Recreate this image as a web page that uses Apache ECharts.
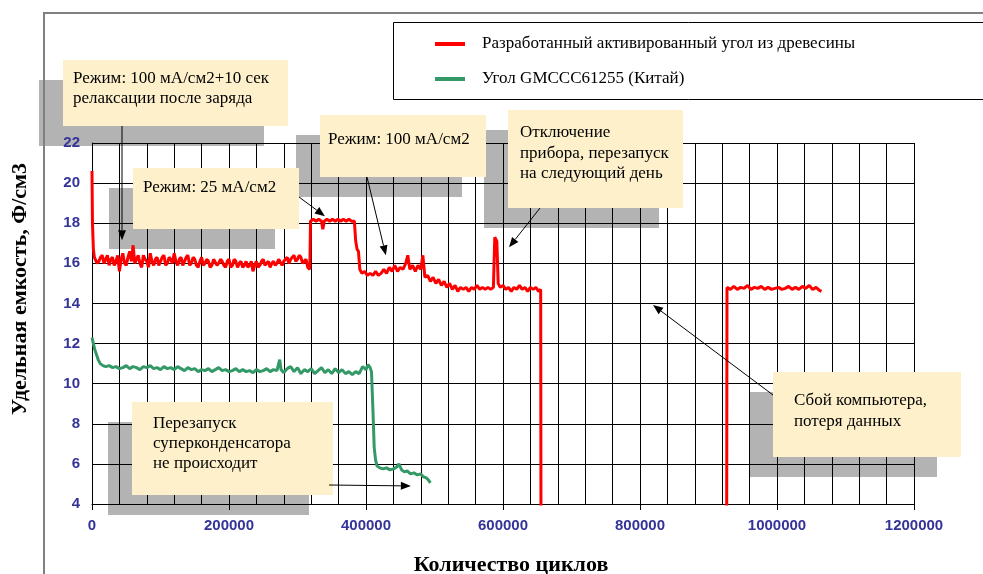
<!DOCTYPE html>
<html>
<head>
<meta charset="utf-8">
<script src="https://cdn.jsdelivr.net/npm/echarts@6/dist/echarts.min.js"></script>
<style>
  html, body { margin: 0; padding: 0; background: #ffffff; }
  #chart { width: 983px; height: 574px; }
</style>
</head>
<body>
<div id="chart"></div>
<script>
// Capacitance vs. cycle count for two supercapacitor electrode carbons

const seriesNames = [
  'Разработанный активированный угол из древесины',
  'Угол GMCCC61255 (Китай)'
];

const axisTitles = {
  x: 'Количество циклов',
  y: 'Удельная емкость, Ф/см3'
};

// [cycles, F/cm3] — wood-derived activated carbon
const woodCarbon = [
  [0, 20.6], [700, 18.0], [2000, 16.7], [3500, 16.3],
  [5000, 16.3], [7500, 16.0], [10000, 16.1], [12500, 16.3], [15000, 16.4], [17500, 16.0], [20000, 16.2], [22500, 16.4], [25000, 15.9],
  [27500, 16.2], [30000, 16.3], [32500, 15.9], [35000, 16.1], [37500, 16.4], [40000, 15.6], [42500, 16.2], [45000, 16.5], [47500, 16.0], [50000, 15.9],
  [52500, 16.3], [55000, 16.6], [57500, 16.1], [60000, 16.9], [62500, 16.0], [65000, 16.2], [67500, 16.4], [70000, 16.0], [72500, 15.8],
  [75000, 16.4], [77500, 16.2], [80000, 16.1], [82500, 15.8], [85000, 16.5], [87500, 16.1], [90000, 15.9], [92500, 16.2], [95000, 16.3],
  [97500, 15.9], [100000, 16.1], [102500, 16.3], [105000, 16.4], [107500, 15.9], [110000, 16.0], [112500, 16.3], [115000, 16.2], [117500, 16.0],
  [120000, 16.5], [122500, 16.1], [125000, 15.9], [127500, 16.2], [130000, 16.3], [132500, 15.9], [135000, 16.1], [137500, 16.3], [140000, 16.4],
  [142500, 15.9], [145000, 16.0], [147500, 16.3], [150000, 16.2], [152500, 15.9], [155000, 15.8], [157500, 16.1], [160000, 16.3], [162500, 15.9],
  [165000, 16.0], [167500, 16.2], [170000, 16.1], [172500, 15.8], [175000, 15.9], [177500, 16.2], [180000, 16.2], [182500, 15.9], [185000, 16.0],
  [187500, 16.2], [190000, 16.1], [192500, 15.9], [195000, 15.8], [197500, 16.1], [200000, 16.2], [202500, 15.8], [205000, 15.9], [207500, 16.2],
  [210000, 16.1], [212500, 15.8], [215000, 16.0], [217500, 16.1], [220000, 15.8], [222500, 15.9], [225000, 16.1], [227500, 15.8], [230000, 15.9],
  [232500, 16.1], [235000, 15.6], [237500, 15.9], [240000, 16.1], [242500, 15.8], [245000, 15.9], [247500, 16.1], [250000, 16.2], [252500, 15.9],
  [255000, 16.0], [257500, 16.1], [260000, 15.8], [262500, 16.0], [265000, 16.1], [267500, 15.9], [270000, 16.0], [272500, 16.2], [275000, 16.2],
  [277500, 15.9], [280000, 16.1], [282500, 16.2], [285000, 16.3], [287500, 16.0], [290000, 16.2], [292500, 16.3], [295000, 16.4], [297500, 16.1],
  [300000, 16.2], [302500, 16.4], [305000, 16.3], [307500, 16.0], [310000, 16.1], [312500, 16.2], [315000, 15.8], [318000, 15.7],
  [319000, 18.1], [323000, 18.2], [327000, 18.1], [331000, 18.2], [335000, 18.1], [337000, 17.7], [339000, 18.1], [343000, 18.2], [347000, 18.1],
  [351000, 18.2], [355000, 18.1], [359000, 18.2], [363000, 18.1], [367000, 18.2], [371000, 18.1], [375000, 18.2], [379000, 18.1], [383000, 18.1],
  [385000, 17.1], [387000, 16.7], [389000, 16.6], [391000, 15.7], [394000, 15.5],
  [398000, 15.6], [402000, 15.4], [406000, 15.5], [410000, 15.4], [414000, 15.6], [418000, 15.4], [422000, 15.5], [426000, 15.7], [430000, 15.5],
  [434000, 15.8], [438000, 15.6], [442000, 15.9], [446000, 15.6], [450000, 15.8], [454000, 15.7], [458000, 16.0], [461000, 16.4], [464000, 15.7],
  [468000, 15.9], [472000, 15.6], [476000, 15.9], [480000, 15.7], [483000, 16.4], [486000, 15.3],
  [490000, 15.4], [494000, 15.1], [498000, 15.3], [502000, 15.0], [506000, 15.2], [510000, 14.9], [514000, 15.1], [518000, 14.8], [522000, 15.0],
  [526000, 14.7], [530000, 14.9], [534000, 14.6], [538000, 14.8], [542000, 14.7], [546000, 14.8], [550000, 14.6], [554000, 14.8], [558000, 14.7],
  [562000, 14.9], [566000, 14.7], [570000, 14.8], [574000, 14.7], [578000, 14.8], [582000, 14.7], [586000, 14.8],
  [588000, 17.3], [591000, 17.1], [593000, 15.0], [596000, 14.8], [600000, 14.9], [604000, 14.7], [608000, 14.8], [612000, 14.6], [616000, 14.8],
  [620000, 14.7], [624000, 14.9], [628000, 14.7], [632000, 14.8], [636000, 14.6], [640000, 14.8], [644000, 14.7], [648000, 14.8], [652000, 14.6],
  [655000, 14.7], [655500, 2],
  [790000, null],
  [926500, 2], [927000, 14.8], [932000, 14.7], [937000, 14.85], [942000, 14.7], [947000, 14.8], [952000, 14.75], [957000, 14.9], [962000, 14.7],
  [967000, 14.8], [972000, 14.75], [977000, 14.85], [982000, 14.7], [987000, 14.8], [992000, 14.7], [997000, 14.75], [1002000, 14.8],
  [1007000, 14.7], [1012000, 14.75], [1017000, 14.85], [1022000, 14.7], [1027000, 14.8], [1032000, 14.7], [1037000, 14.85], [1042000, 14.75],
  [1047000, 14.9], [1052000, 14.7], [1057000, 14.8], [1062000, 14.65], [1065000, 14.6]
];

// [cycles, F/cm3] — commercial GMCCC61255 carbon
const gmcccCarbon = [
  [0, 12.3], [2000, 12.0], [4000, 11.7], [6000, 11.5], [9000, 11.2], [12000, 11.0], [16000, 10.9], [20000, 10.85],
  [25000, 10.9], [30000, 10.8], [35000, 10.85], [40000, 10.75], [45000, 10.8], [50000, 10.9], [55000, 10.75], [60000, 10.85],
  [65000, 10.8], [70000, 10.7], [75000, 10.85], [80000, 10.8], [85000, 10.9], [90000, 10.75], [95000, 10.8], [100000, 10.7],
  [105000, 10.85], [110000, 10.75], [115000, 10.8], [120000, 10.7], [125000, 10.85], [130000, 10.75], [135000, 10.65], [140000, 10.8],
  [145000, 10.7], [150000, 10.75], [155000, 10.6], [160000, 10.7], [165000, 10.65], [170000, 10.75], [175000, 10.6], [180000, 10.7],
  [185000, 10.8], [190000, 10.65], [195000, 10.7], [200000, 10.6], [205000, 10.65], [210000, 10.75], [215000, 10.6], [220000, 10.7],
  [225000, 10.6], [230000, 10.65], [235000, 10.55], [240000, 10.7], [245000, 10.6], [250000, 10.65], [255000, 10.75], [260000, 10.6],
  [265000, 10.7], [270000, 10.65], [274000, 11.2], [276000, 10.7], [280000, 10.55], [285000, 10.75], [290000, 10.85], [295000, 10.6],
  [300000, 10.8], [305000, 10.5], [310000, 10.7], [315000, 10.6], [320000, 10.75], [325000, 10.5], [330000, 10.65], [335000, 10.8],
  [340000, 10.55], [345000, 10.7], [350000, 10.5], [355000, 10.75], [360000, 10.55], [365000, 10.7], [370000, 10.5], [375000, 10.6],
  [380000, 10.45], [385000, 10.6], [390000, 10.5], [395000, 10.85], [400000, 10.7], [403000, 10.95], [406000, 10.8], [408000, 10.6],
  [410000, 8.8], [412000, 6.8], [414000, 6.2], [416000, 5.9], [420000, 5.8], [425000, 5.75], [430000, 5.8], [435000, 5.7],
  [440000, 5.75], [445000, 5.85], [448000, 6.0], [452000, 5.7], [456000, 5.6], [460000, 5.65], [465000, 5.5], [470000, 5.55],
  [475000, 5.45], [480000, 5.5], [484000, 5.35], [488000, 5.3], [491000, 5.2], [494000, 5.05]
];

// Callout notes: box in page pixels, arrow from a box edge to a point on the data
const callouts = [
  { box: [63, 60, 225, 66], text: 'Режим: 100 мА/см2+10 сек\nрелаксации после заряда', textPos: [73, 69], lh: 20,
    from: [122, 126], to: [43800, 17.15] },
  { box: [133, 168, 166, 61], text: 'Режим: 25 мА/см2', textPos: [143, 178], lh: 20,
    from: [299, 197], to: [340000, 18.35] },
  { box: [320, 115, 166, 62], text: 'Режим: 100 мА/см2', textPos: [328, 130], lh: 20,
    from: [367, 177], to: [429000, 16.4] },
  { box: [508, 110, 175, 98], text: 'Отключение\nприбора, перезапуск\nна следующий день', textPos: [520, 122.5], lh: 20.5,
    from: [540, 208], to: [608800, 16.8] },
  { box: [132, 402, 201, 93], text: 'Перезапуск\nсуперконденсатора\nне происходит', textPos: [153, 414], lh: 20,
    from: [329, 485], to: [465500, 4.9] },
  { box: [773, 372, 188, 85], text: 'Сбой компьютера,\nпотеря данных', textPos: [794, 390.5], lh: 21,
    from: [773, 395], to: [819000, 13.92] }
];

const chart = echarts.init(document.getElementById('chart'), null, { renderer: 'canvas' });

const labelStyle = {
  color: '#333399',
  fontFamily: 'Liberation Sans, Arial, sans-serif',
  fontWeight: 'bold',
  fontSize: 15,
  formatter: function (v) { return String(v); }
};

const serifFont = '"Liberation Serif", "Times New Roman", serif';

const option = {
  backgroundColor: '#ffffff',
  animation: false,
  grid: { left: 92, right: 69, top: 143, bottom: 70, containLabel: false },
  legend: {
    orient: 'vertical',
    left: 435,
    top: 34,
    padding: 0,
    itemGap: 15,
    itemWidth: 30,
    itemHeight: 4,
    icon: 'rect',
    z: 20,
    textStyle: {
      fontFamily: serifFont,
      fontSize: 17,
      color: '#000000',
      lineHeight: 20,
      padding: [0, 0, 0, 12]
    },
    data: seriesNames
  },
  xAxis: {
    type: 'value',
    min: 0,
    max: 1200000,
    interval: 200000,
    axisLine: { show: true, lineStyle: { color: '#000', width: 1 } },
    axisTick: { show: true, length: 6, lineStyle: { color: '#000' } },
    axisLabel: Object.assign({ margin: 14 }, labelStyle),
    splitLine: { show: true, lineStyle: { color: '#000', width: 1 } },
    minorTick: { show: false, splitNumber: 5 },
    minorSplitLine: { show: true, lineStyle: { color: '#000', width: 1 } }
  },
  yAxis: {
    type: 'value',
    min: 4,
    max: 22,
    interval: 2,
    axisLine: { show: true, lineStyle: { color: '#000', width: 1 } },
    axisTick: { show: false },
    axisLabel: Object.assign({ margin: 12 }, labelStyle),
    splitLine: { show: true, lineStyle: { color: '#000', width: 1 } }
  },
  series: [
    {
      name: seriesNames[0],
      type: 'line',
      data: woodCarbon,
      showSymbol: false,
      symbol: 'none',
      connectNulls: false,
      clip: true,
      z: 3,
      lineStyle: { color: '#ff0000', width: 3 },
      itemStyle: { color: '#ff0000' }
    },
    {
      name: seriesNames[1],
      type: 'line',
      data: gmcccCarbon,
      showSymbol: false,
      symbol: 'none',
      clip: true,
      z: 3,
      lineStyle: { color: '#339966', width: 3 },
      itemStyle: { color: '#339966' }
    }
  ]
};

chart.setOption(option);

function arrowShapes(x1, y1, x2, y2) {
  const ang = Math.atan2(y2 - y1, x2 - x1);
  const len = 10, half = 4;
  const bx = x2 - len * Math.cos(ang), by = y2 - len * Math.sin(ang);
  const px = -Math.sin(ang) * half, py = Math.cos(ang) * half;
  return [
    { type: 'line', z: 12, shape: { x1: x1, y1: y1, x2: bx, y2: by },
      style: { stroke: '#000', lineWidth: 1 } },
    { type: 'polygon', z: 12,
      shape: { points: [[x2, y2], [bx + px, by + py], [bx - px, by - py]] },
      style: { fill: '#000' } }
  ];
}

const graphics = [];

// outer frame of the chart area
graphics.push({
  type: 'polyline', z: 30,
  shape: { points: [[44, 574], [44, 13], [983, 13]] },
  style: { stroke: '#808080', lineWidth: 2, fill: null }
});

// legend frame
graphics.push({
  type: 'rect', z: 10,
  shape: { x: 393.5, y: 22.5, width: 620, height: 77 },
  style: { fill: '#ffffff', stroke: '#000000', lineWidth: 1 }
});

// axis titles
graphics.push({
  type: 'text', z: 10,
  style: {
    x: 511, y: 565, text: axisTitles.x,
    font: 'bold 22px ' + serifFont,
    fill: '#000', align: 'center', verticalAlign: 'middle'
  }
});
graphics.push({
  type: 'text', z: 10,
  x: 20, y: 289, rotation: Math.PI / 2,
  style: {
    x: 0, y: 0, text: axisTitles.y,
    font: 'bold 22px ' + serifFont,
    fill: '#000', align: 'center', verticalAlign: 'middle'
  }
});

callouts.forEach(function (c) {
  const b = c.box;
  graphics.push({
    type: 'rect', z: -1,
    shape: { x: b[0] - 24, y: b[1] + 20, width: b[2], height: b[3] },
    style: { fill: '#b3b3b3' }
  });
  graphics.push({
    type: 'rect', z: 10,
    shape: { x: b[0], y: b[1], width: b[2], height: b[3] },
    style: { fill: '#fdf0cb' }
  });
  graphics.push({
    type: 'text', z: 11,
    style: {
      x: c.textPos[0], y: c.textPos[1], text: c.text,
      font: '17px ' + serifFont,
      lineHeight: c.lh, fill: '#000', align: 'left', verticalAlign: 'top'
    }
  });
  const tip = chart.convertToPixel({ gridIndex: 0 }, c.to);
  arrowShapes(c.from[0], c.from[1], tip[0], tip[1]).forEach(function (g) { graphics.push(g); });
});

chart.setOption({ graphic: graphics });
</script>
</body>
</html>
